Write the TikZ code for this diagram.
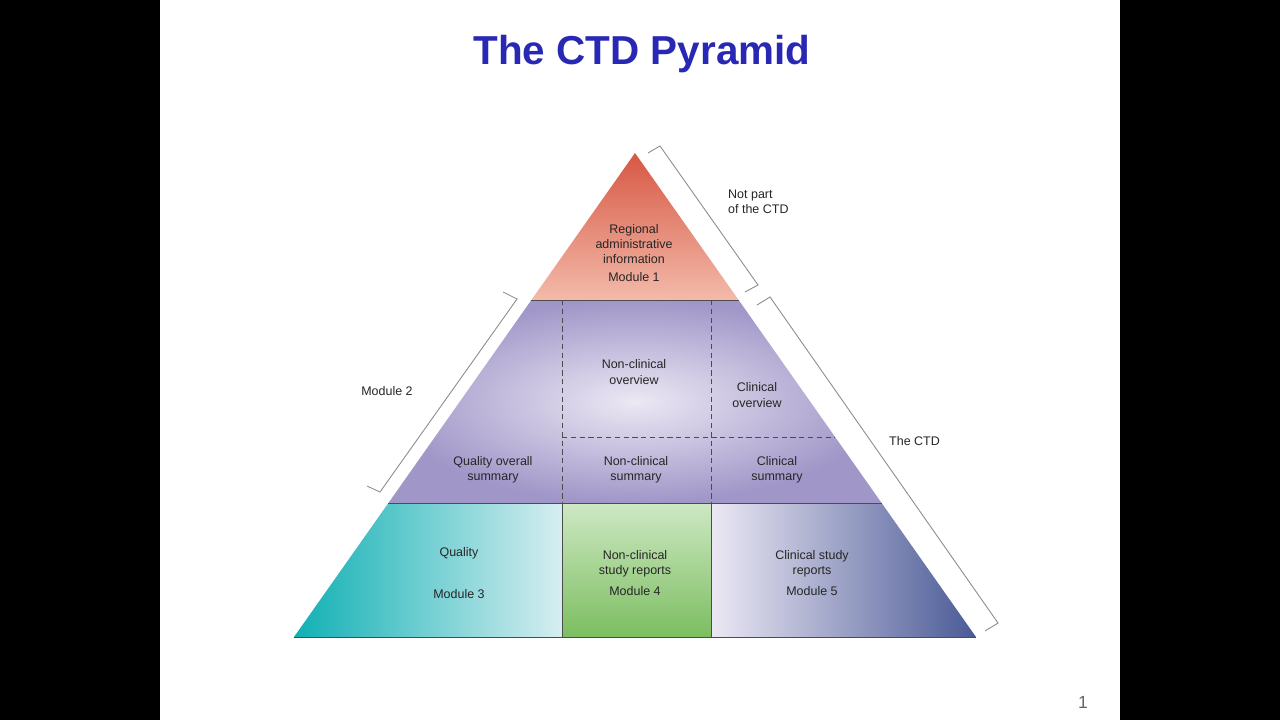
\documentclass[tikz,border=0pt]{standalone}
\usepackage{fontspec}
\setmainfont{Liberation Sans}
\usetikzlibrary{positioning}
\definecolor{titleblue}{RGB}{40,40,180}
\definecolor{regred}{RGB}{214,88,68}
\definecolor{reglight}{RGB}{244,186,170}
\definecolor{lav}{RGB}{160,150,200}
\definecolor{lavlight}{RGB}{236,232,244}
\definecolor{teal}{RGB}{16,176,180}
\definecolor{teallight}{RGB}{214,238,240}
\definecolor{greendark}{RGB}{124,190,96}
\definecolor{greenlight}{RGB}{206,232,196}
\definecolor{navy}{RGB}{74,90,150}
\definecolor{bracketgray}{RGB}{140,140,140}
\begin{document}
\begin{tikzpicture}[x=0.02cm,y=-0.02cm,
    lbl/.style={font=\fontsize{7.1}{8.6}\selectfont, align=center, text=black!85},
    sidelbl/.style={font=\fontsize{7.1}{8.6}\selectfont, align=left, text=black!85},
    bracket/.style={draw=bracketgray, line width=0.5pt},
    divider/.style={draw=black!70, line width=0.5pt},
    dotdivider/.style={draw=black!70, line width=0.5pt, densely dashed}
]
    % Background
    \fill[black] (0,0) rectangle (1280,720);
    \fill[white] (160,0) rectangle (1120,720);
    \useasboundingbox (0,0) rectangle (1280,720);

    % Title
    \node[font=\bfseries\fontsize{23}{28}\selectfont, text=titleblue] (title) at (642,54) {The CTD Pyramid};

    % Pyramid tiers
    \shade[top color=regred, bottom color=reglight] (635,153) -- (738.6,300) -- (531.4,300) -- cycle;
    \shade[inner color=lavlight, outer color=lav] (531.4,300) -- (738.6,300) -- (881.6,503) -- (388.4,503) -- cycle;
    \shade[left color=teal, right color=teallight] (388.4,503) -- (562,503) -- (562,637) -- (294,637) -- cycle;
    \shade[top color=greenlight, bottom color=greendark] (562,503) rectangle (711,637);
    \shade[left color=lavlight, right color=navy] (711,503) -- (881.6,503) -- (976,637) -- (711,637) -- cycle;

    % Dividers
    \draw[divider] (531.4,300) -- (738.6,300);
    \draw[divider] (388.4,503) -- (881.6,503);
    \draw[divider] (294,637) -- (976,637);
    \draw[dotdivider] (562,300) -- (562,503);
    \draw[dotdivider] (711,300) -- (711,503);
    \draw[dotdivider] (562,437) -- (835,437);
    \draw[divider] (562,503) -- (562,637);
    \draw[divider] (711,503) -- (711,637);

    % Labels
    \node[lbl] (module1) at (634,253) {Regional\\administrative\\information\\[2pt]Module 1};
    \node[lbl] (ncover) at (634,372) {Non-clinical\\overview};
    \node[lbl] (clover) at (757,395) {Clinical\\overview};
    \node[lbl] (qos) at (493,470) {Quality overall\\summary};
    \node[lbl] (ncsum) at (636,470) {Non-clinical\\summary};
    \node[lbl] (clsum) at (777,470) {Clinical\\summary};
    \node[lbl] (module3) at (459,573) {Quality\\[15pt]Module 3};
    \node[lbl] (module4) at (635,573) {Non-clinical\\study reports\\[3pt]Module 4};
    \node[lbl] (module5) at (812,573) {Clinical study\\reports\\[3pt]Module 5};

    % Brackets
    \draw[bracket] (648,153) -- (660,146) -- (758,285) -- (745,292);
    \draw[bracket] (757,305) -- (770,297) -- (998,623) -- (985,631);
    \draw[bracket] (503,292) -- (517,299) -- (380,492) -- (367,486);
    \node[sidelbl, anchor=west] (notpart) at (722,202) {Not part\\of the CTD};
    \node[sidelbl, anchor=west] (thectd) at (883,441) {The CTD};
    \node[sidelbl] (module2) at (387,391) {Module 2};

    % Page number
    \node[font=\rmfamily\fontsize{10}{12}\selectfont, text=black!60] (page) at (1083,702) {1};
\end{tikzpicture}
\end{document}
